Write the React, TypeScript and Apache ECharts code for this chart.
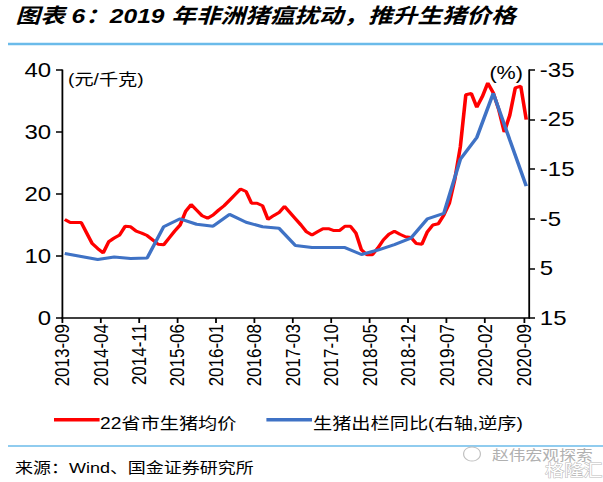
import React, { useEffect, useRef } from "react";
import * as echarts from "echarts";

// Monthly categories 2013-09 ... 2020-09
const startYear = 2013;
const startMonth = 9;
const monthCount = 85;
const months: string[] = [];
for (let k = 0; k < monthCount; k++) {
  const t = startMonth - 1 + k;
  const y = startYear + Math.floor(t / 12);
  const m = (t % 12) + 1;
  months.push(`${y}-${String(m).padStart(2, "0")}`);
}

const tickLabels = [
  "2013-09", "2014-04", "2014-11", "2015-06", "2016-01", "2016-08", "2017-03",
  "2017-10", "2018-05", "2018-12", "2019-07", "2020-02", "2020-09",
];

// 22省市生猪均价 (元/千克), monthly
const pigPrice = [
  15.9, 15.4, 15.4, 15.4, 13.7, 12.0, 11.2, 10.5, 12.3, 12.9,
  13.4, 14.8, 14.7, 14.0, 13.7, 13.3, 12.6, 11.9, 11.8, 12.9,
  14.0, 15.0, 17.2, 18.3, 17.4, 16.5, 16.1, 16.6, 17.4, 18.1,
  19.0, 19.9, 20.8, 20.4, 18.5, 18.5, 18.1, 15.9, 16.5, 17.0,
  18.0, 17.0, 16.0, 15.0, 13.9, 13.4, 13.9, 14.4, 14.4, 14.1,
  14.1, 14.8, 14.8, 13.7, 11.0, 10.2, 10.2, 11.3, 12.6, 13.5,
  14.0, 13.5, 13.1, 13.0, 12.0, 11.9, 13.9, 15.0, 15.2, 16.6,
  18.5, 22.4, 27.6, 36.0, 36.2, 34.0, 35.7, 37.9, 36.3, 33.6,
  30.0, 32.7, 37.1, 37.4, 32.0,
];

// 生猪出栏同比 (%), quarterly, right axis inverted
const quarterDates = [
  "2013-09", "2013-12", "2014-03", "2014-06", "2014-09", "2014-12", "2015-03",
  "2015-06", "2015-09", "2015-12", "2016-03", "2016-06", "2016-09", "2016-12",
  "2017-03", "2017-06", "2017-09", "2017-12", "2018-03", "2018-06", "2018-09",
  "2018-12", "2019-03", "2019-06", "2019-09", "2019-12", "2020-03", "2020-06",
  "2020-09",
];
const slaughterYoY = [
  2.0, 2.6, 3.2, 2.7, 3.0, 2.9, -3.4, -5.0, -3.9, -3.5,
  -5.9, -4.3, -3.4, -3.1, 0.4, 0.8, 0.8, 0.8, 2.2, 1.3,
  0.2, -1.1, -5.0, -6.1, -17.0, -21.4, -30.3, -20.9, -11.6,
];

const seriesNames = ["22省市生猪均价", "生猪出栏同比(右轴,逆序)"];

const leftTicks = { min: 0, max: 40, interval: 10 };
const rightTicks = { min: -35, max: 15, interval: 10 };

const SX = 1.2; // horizontal stretch of the original picture
const W = 603 / SX;
const H = 482;
const FONT = "Liberation Sans, Arial, Noto Sans CJK SC, sans-serif";

export default function App() {
  const ref = useRef<HTMLDivElement>(null);
  useEffect(() => {
    if (!ref.current) return;
    const chart = echarts.init(ref.current, null, { renderer: "svg", width: W, height: H });
    const redData = pigPrice.map((v, i) => [i + 0.5, v]);
    const blueData = quarterDates.map((d, i) => [months.indexOf(d) + 0.5, slaughterYoY[i]]);
    const legendBase = {
      top: 413,
      icon: "rect",
      itemWidth: 38,
      itemHeight: 3.5,
      formatter: () => "",
      textStyle: { color: "#000", fontSize: 16, fontFamily: FONT },
    };
    const legendLabel = (text: string, x: number) => ({
      type: "text",
      x,
      y: 424,
      style: { text, fontSize: 16, fontFamily: FONT, fill: "#000", verticalAlign: "middle" },
    });
    chart.setOption({
      animation: false,
      textStyle: { fontFamily: FONT },
      grid: { left: 62 / SX, right: W - 529 / SX, top: 70, bottom: H - 318 },
      xAxis: {
        type: "value",
        min: 0,
        max: monthCount,
        interval: 7,
        splitLine: { show: false },
        axisLine: { lineStyle: { color: "#000", width: 1.5 } },
        axisTick: { show: true, length: 5, lineStyle: { color: "#000", width: 1.5 } },
        axisLabel: {
          rotate: 90,
          margin: 6,
          color: "#000",
          fontSize: 17,
          fontFamily: FONT,
          showMaxLabel: false,
          formatter: (v: number) => (v % 7 === 0 && tickLabels[v / 7] ? tickLabels[v / 7] : ""),
        },
      },
      yAxis: [
        {
          type: "value",
          ...leftTicks,
          splitLine: { show: false },
          axisLine: { show: true, lineStyle: { color: "#000", width: 1.5 } },
          axisTick: { show: true, length: 5, lineStyle: { color: "#000", width: 1.5 } },
          axisLabel: { color: "#000", fontSize: 20, margin: 9, fontFamily: FONT },
        },
        {
          type: "value",
          ...rightTicks,
          inverse: true,
          position: "right",
          splitLine: { show: false },
          axisLine: { show: true, lineStyle: { color: "#000", width: 1.5 } },
          axisTick: { show: true, length: 5, lineStyle: { color: "#000", width: 1.5 } },
          axisLabel: { color: "#000", fontSize: 20, margin: 9, fontFamily: FONT },
        },
      ],
      legend: [
        { ...legendBase, data: [seriesNames[0]], left: 40 },
        { ...legendBase, data: [seriesNames[1]], left: 217 },
      ],
      series: [
        {
          name: seriesNames[0],
          type: "line",
          data: redData,
          yAxisIndex: 0,
          showSymbol: false,
          symbol: "none",
          lineStyle: { color: "#FF0000", width: 3 },
          itemStyle: { color: "#FF0000" },
        },
        {
          name: seriesNames[1],
          type: "line",
          data: blueData,
          yAxisIndex: 1,
          showSymbol: false,
          symbol: "none",
          lineStyle: { color: "#3F72C5", width: 3 },
          itemStyle: { color: "#3F72C5" },
        },
      ],
      graphic: [
        {
          type: "text",
          left: 13,
          top: 6,
          style: {
            text: "图表 6：2019 年非洲猪瘟扰动，推升生猪价格",
            fontSize: 20.5,
            fontWeight: "bold",
            fontStyle: "italic",
            fontFamily: FONT,
            fill: "#000",
          },
        },
        {
          type: "line",
          shape: { x1: 8 / SX, y1: 44, x2: W, y2: 44 },
          style: { stroke: "#6BBBEA", lineWidth: 2.5 },
        },
        legendLabel(seriesNames[0], 100 / SX),
        legendLabel(seriesNames[1], 313 / SX),
        {
          type: "text",
          x: 68 / SX,
          y: 80,
          style: {
            text: "(元/千克)",
            fontSize: 16,
            fontFamily: FONT,
            fill: "#000",
            verticalAlign: "middle",
          },
        },
        {
          type: "text",
          x: 523 / SX,
          y: 73,
          style: {
            text: "(%)",
            fontSize: 18,
            fontFamily: FONT,
            fill: "#000",
            align: "right",
            verticalAlign: "middle",
          },
        },
        {
          type: "line",
          shape: { x1: 8 / SX, y1: 446, x2: W, y2: 446 },
          style: { stroke: "#6BBBEA", lineWidth: 1.5 },
        },
        {
          type: "text",
          x: 15 / SX,
          y: 468,
          style: {
            text: "来源：Wind、国金证券研究所",
            fontSize: 15,
            fontFamily: FONT,
            fill: "#000",
            verticalAlign: "middle",
          },
        },
        {
          type: "text",
          x: 492 / SX,
          y: 455,
          style: {
            text: "赵伟宏观探索",
            fontSize: 14,
            fontFamily: FONT,
            fill: "#B0B0B0",
            verticalAlign: "middle",
          },
        },
        {
          type: "circle",
          shape: { cx: 472 / SX, cy: 454, r: 7 },
          style: { fill: "none", stroke: "#C0C0C0", lineWidth: 1 },
        },
        {
          type: "text",
          x: 545 / SX,
          y: 471,
          style: {
            text: "格隆汇",
            fontSize: 16,
            fontFamily: FONT,
            fill: "#FFFFFF",
            stroke: "#BBBBBB",
            lineWidth: 1,
            verticalAlign: "middle",
          },
        },
      ],
    });
    return () => chart.dispose();
  }, []);
  return (
    <div
      style={{
        position: "absolute",
        left: 0,
        top: 0,
        width: W,
        height: H,
        transform: `scaleX(${SX})`,
        transformOrigin: "0 0",
        background: "#fff",
      }}
    >
      <div ref={ref} style={{ width: W, height: H }} />
    </div>
  );
}
